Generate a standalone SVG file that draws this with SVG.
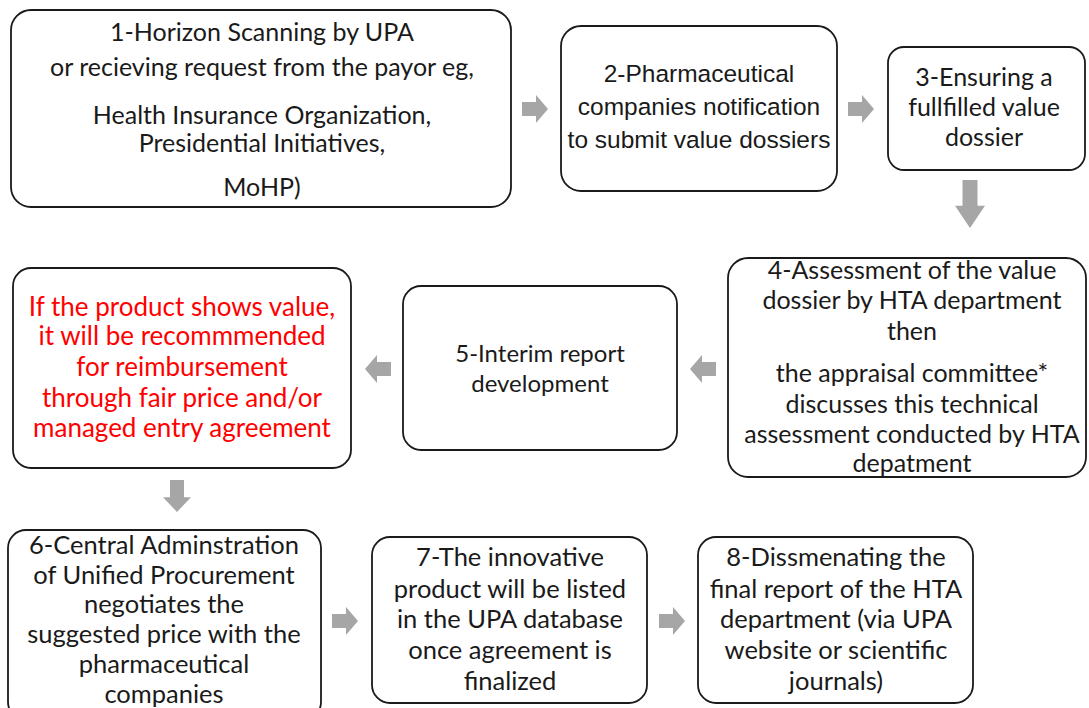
<svg xmlns="http://www.w3.org/2000/svg" width="1089" height="708" viewBox="0 0 1089 708">
<style>
.box{fill:#fff;stroke:#1a1a1a;stroke-width:1.8}
.t{font-family:Lato,"Open Sans",sans-serif;font-size:25px;fill:#1a1a1a;text-anchor:middle}
.a{font-family:"Liberation Sans",Arial,sans-serif;font-size:24.5px;fill:#1a1a1a;text-anchor:middle}
.r{fill:#ff0000;font-size:26px}
.s{font-size:24px}
.b{font-size:25.5px}
.arr{fill:#a6a6a6}
</style>
<defs>
<path id="ar" d="M-13,-7 H1 V-14 L13,0 L1,14 V7 H-13 Z"/>
</defs>
<g id="connectors" class="arr">
<use href="#ar" transform="translate(535,109)"/>
<use href="#ar" transform="translate(861,109)"/>
<use href="#ar" transform="translate(970,204) rotate(90) scale(1.85,1.07)"/>
<use href="#ar" transform="translate(703,369) rotate(180)"/>
<use href="#ar" transform="translate(378,369) rotate(180)"/>
<use href="#ar" transform="translate(177,496) rotate(90) scale(1.23,1)"/>
<use href="#ar" transform="translate(345,621)"/>
<use href="#ar" transform="translate(672,621)"/>
</g>
<g id="n1">
<rect class="box" x="11" y="10" width="500" height="197" rx="20"/>
<text class="t" x="262" y="41">1-Horizon Scanning by UPA</text>
<text class="t" x="262" y="76">or recieving request from the payor eg,</text>
<text class="t" x="262" y="124">Health Insurance Organization,</text>
<text class="t" x="262" y="152">Presidential Initiatives,</text>
<text class="t" x="262" y="196">MoHP)</text>
</g>
<g id="n2">
<rect class="box" x="561" y="26" width="276" height="165" rx="20"/>
<text class="a" x="699" y="82">2-Pharmaceutical</text>
<text class="a" x="699" y="115">companies notification</text>
<text class="a" x="699" y="148">to submit value dossiers</text>
</g>
<g id="n3">
<rect class="box" x="888" y="47" width="197" height="123" rx="16"/>
<text class="t" x="984" y="86">3-Ensuring a</text>
<text class="t" x="984" y="116">fullfilled value</text>
<text class="t" x="984" y="146">dossier</text>
</g>
<g id="n4">
<rect class="box" x="728" y="258" width="358" height="219" rx="20"/>
<text class="t" x="912" y="279">4-Assessment of the value</text>
<text class="t" x="912" y="309">dossier by HTA department</text>
<text class="t" x="912" y="340">then</text>
<text class="t" x="912" y="382">the appraisal committee*</text>
<text class="t" x="912" y="413">discusses this technical</text>
<text class="t" x="912" y="443">assessment conducted by HTA</text>
<text class="t" x="912" y="472">depatment</text>
</g>
<g id="n5">
<rect class="box" x="403" y="286" width="274" height="164" rx="18"/>
<text class="t s" x="540" y="362">5-Interim report</text>
<text class="t s" x="540" y="392">development</text>
</g>
<g id="nr">
<rect class="box" x="13" y="268" width="338" height="200" rx="18"/>
<text class="t r" x="182" y="316">If the product shows value,</text>
<text class="t r" x="182" y="345">it will be recommmended</text>
<text class="t r" x="182" y="376">for reimbursement</text>
<text class="t r" x="182" y="407">through fair price and/or</text>
<text class="t r" x="182" y="437">managed entry agreement</text>
</g>
<g id="n6">
<rect class="box" x="8" y="530" width="313" height="190" rx="18"/>
<text class="t b" x="164" y="554">6-Central Adminstration</text>
<text class="t b" x="164" y="584">of Unified Procurement</text>
<text class="t b" x="164" y="613">negotiates the</text>
<text class="t b" x="164" y="643">suggested price with the</text>
<text class="t b" x="164" y="673">pharmaceutical</text>
<text class="t b" x="164" y="703">companies</text>
</g>
<g id="n7">
<rect class="box" x="372" y="537" width="275" height="166" rx="18"/>
<text class="t b" x="510" y="566">7-The innovative</text>
<text class="t b" x="510" y="598">product will be listed</text>
<text class="t b" x="510" y="628">in the UPA database</text>
<text class="t b" x="510" y="659">once agreement is</text>
<text class="t b" x="510" y="690">finalized</text>
</g>
<g id="n8">
<rect class="box" x="698" y="537" width="275" height="166" rx="18"/>
<text class="t b" x="836" y="566">8-Dissmenating the</text>
<text class="t b" x="836" y="598">final report of the HTA</text>
<text class="t b" x="836" y="628">department (via UPA</text>
<text class="t b" x="836" y="659">website or scientific</text>
<text class="t b" x="836" y="690">journals)</text>
</g>
</svg>
